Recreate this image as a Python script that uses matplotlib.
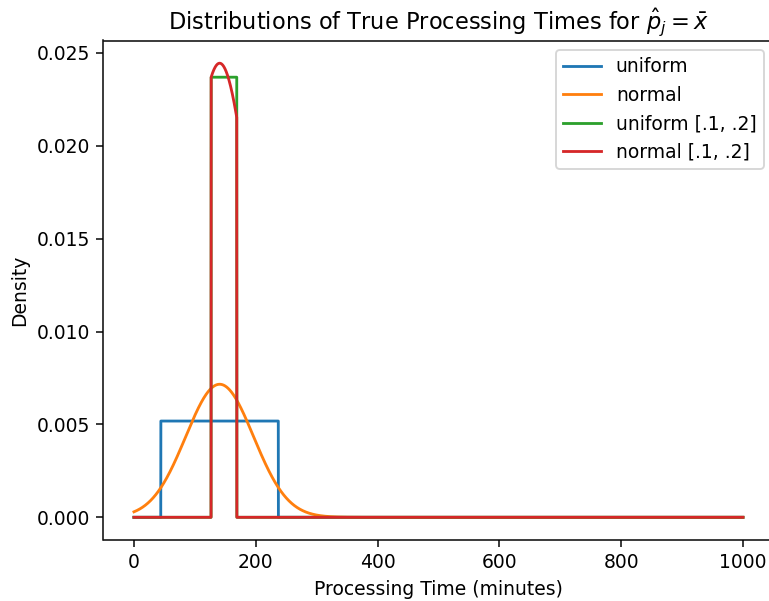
import math
import numpy as np
import matplotlib
matplotlib.use("Agg")
import matplotlib.pyplot as plt

# Values
x_bar = 140.7            # sample mean of processing time (minutes)
sd = 55.7                # sample standard deviation
uni_low, uni_high = 44.2, 237.2    # plain uniform support
band = (0.1, 0.2)        # [.1, .2] band around x_bar
x_max = 1000
n_points = 5001

labels = ["uniform", "normal", "uniform [.1, .2]", "normal [.1, .2]"]


def norm_cdf(z):
    return 0.5 * (1 + math.erf(z / math.sqrt(2)))


x = np.linspace(0, x_max, n_points)
lo = x_bar * (1 - band[0])
hi = x_bar * (1 + band[1])

inside_uni = (x >= uni_low) & (x <= uni_high)
uniform_pdf = np.where(inside_uni, 1 / (uni_high - uni_low), 0.0)

normal_pdf = np.exp(-0.5 * ((x - x_bar) / sd) ** 2) / (sd * np.sqrt(2 * np.pi))

inside_band = (x >= lo) & (x <= hi)
uniform_band_pdf = np.where(inside_band, 1 / (hi - lo), 0.0)

z_mass = norm_cdf((hi - x_bar) / sd) - norm_cdf((lo - x_bar) / sd)
normal_band_pdf = np.where(inside_band, normal_pdf / z_mass, 0.0)

dpi = 135
fig = plt.figure(figsize=(769 / dpi, 601 / dpi), dpi=dpi)
ax = fig.add_axes([103.5 / 769, 61 / 601, (773.4 - 103.5) / 769, (540 - 40.5) / 601])

for pdf, lab in zip([uniform_pdf, normal_pdf, uniform_band_pdf, normal_band_pdf], labels):
    ax.plot(x, pdf, label=lab)

ax.set_title(r"Distributions of True Processing Times for $\hat{p}_j = \bar{x}$")
ax.set_xlabel("Processing Time (minutes)")
ax.set_ylabel("Density")
ax.legend(loc="upper right")

fig.savefig("out.png", dpi=dpi)
